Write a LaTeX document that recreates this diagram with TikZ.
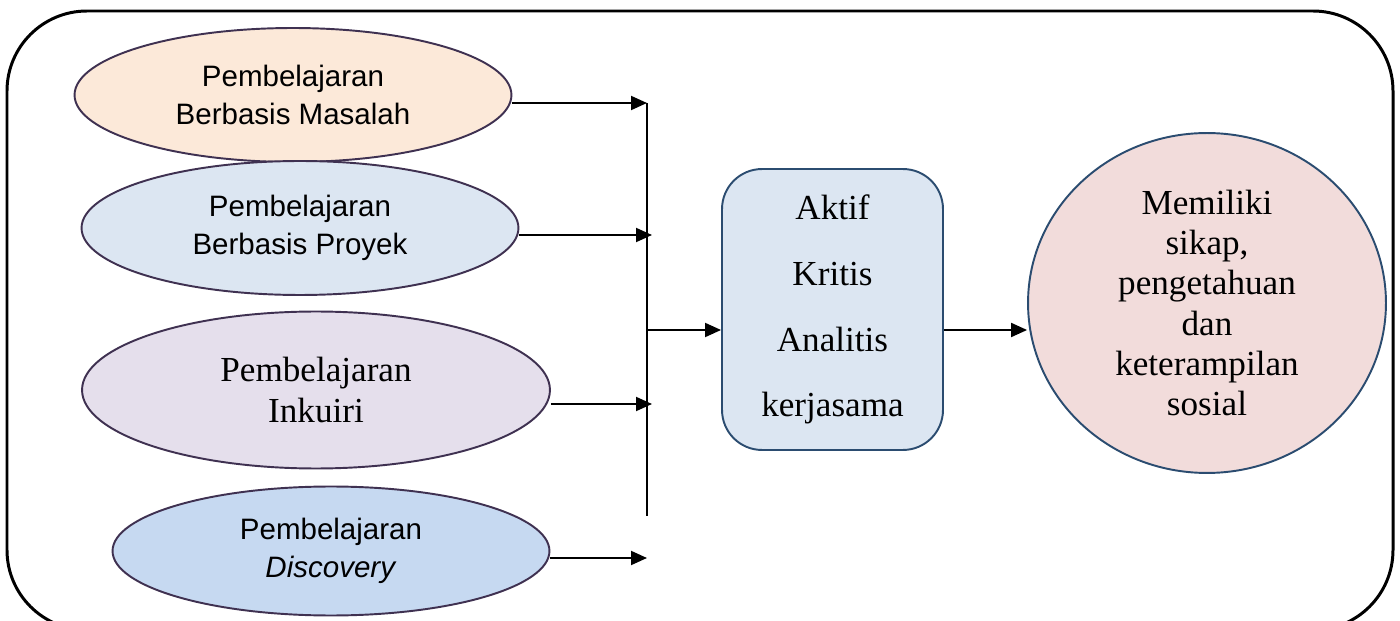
\documentclass[tikz,border=0pt]{standalone}
\usepackage{fontspec}
\setmainfont{Liberation Serif}
\setsansfont{Liberation Sans}
\usetikzlibrary{arrows.meta, positioning, shapes.geometric}

\definecolor{edgepurple}{HTML}{3F3151}
\definecolor{edgeblue}{HTML}{2B4C70}
\definecolor{peach}{HTML}{FCE9D9}
\definecolor{paleblue}{HTML}{DCE6F2}
\definecolor{lilac}{HTML}{E5DFEC}
\definecolor{skyblue}{HTML}{C6D9F1}
\definecolor{rose}{HTML}{F2DCDB}

\begin{document}
\begin{tikzpicture}[x=0.02cm, y=-0.02cm,
    model/.style={ellipse, draw=edgepurple, line width=1.1pt, inner sep=0pt, align=center,
        minimum width=8.74cm, minimum height=2.68cm, font=\sffamily\fontsize{16.8}{21.5}\selectfont},
    arr/.style={-{Triangle[length=0.32cm, width=0.28cm]}, line width=1.1pt}]
    \useasboundingbox (0,0) rectangle (1400,621);

    % Outer frame (bottom edge just below the page)
    \draw[line width=1.7pt, rounded corners=1.6cm] (7,11) rectangle (1393,630);

    % Learning models
    \node[model, fill=peach] (masalah) at (293,95) {Pembelajaran\\Berbasis Masalah};
    \node[model, fill=paleblue] (proyek) at (300,228) {Pembelajaran\\Berbasis Proyek};
    \node[model, fill=lilac, minimum width=9.36cm, minimum height=3.14cm,
        font=\rmfamily\fontsize{20}{22.8}\selectfont] (inkuiri) at (316,390) {Pembelajaran\\Inkuiri};
    \node[model, fill=skyblue, minimum height=2.58cm] (discovery) at (331,551) {Pembelajaran\\\textit{Discovery}};

    % Collecting bus
    \coordinate (busTop) at (647,103);
    \coordinate (busBot) at (647,516);
    \coordinate (busMid) at (647,330);
    \coordinate (tip2) at (652,235);
    \coordinate (tip3) at (652,404);
    \coordinate (tip4) at (647,558);
    \draw[line width=1.1pt] (busTop) -- (busBot);

    % Outcome nodes
    \node[draw=edgeblue, fill=paleblue, line width=1.1pt, rounded corners=0.8cm,
        minimum width=4.42cm, minimum height=5.62cm, align=center,
        font=\fontsize{20}{37.5}\selectfont] (skills) at (832.5,309.5) {Aktif\\Kritis\\Analitis\\kerjasama};
    \node[ellipse, draw=edgeblue, fill=rose, line width=1.1pt, inner sep=0pt,
        minimum width=7.16cm, minimum height=6.8cm, align=center,
        font=\fontsize{20}{22.8}\selectfont] (result) at (1207,303)
        {Memiliki\\sikap,\\pengetahuan\\dan\\keterampilan\\sosial};

    % Arrows
    \draw[arr] (masalah.east |- busTop) -- (busTop);
    \draw[arr] (proyek.east |- tip2) -- (tip2);
    \draw[arr] (inkuiri.east |- tip3) -- (tip3);
    \draw[arr] (discovery.east |- tip4) -- (tip4);
    \draw[arr] (busMid) -- (skills.west |- busMid);
    \draw[arr] (skills.east |- busMid) -- (result.west |- busMid);
\end{tikzpicture}
\end{document}
